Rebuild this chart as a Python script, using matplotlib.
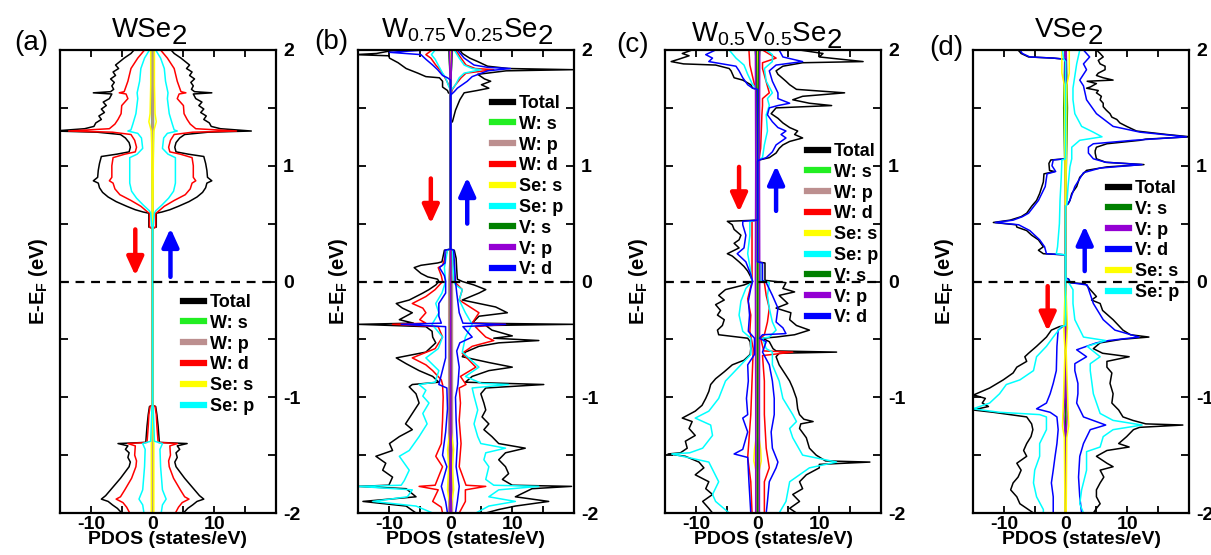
import matplotlib
matplotlib.use("Agg")
import matplotlib.pyplot as plt
from matplotlib.lines import Line2D

plt.rcParams["font.family"] = ["Liberation Sans", "DejaVu Sans"]
plt.rcParams["mathtext.default"] = "regular"
plt.rcParams["axes.unicode_minus"] = False

COLORS = {
    "Total": "black", "W: s": "#22ee22", "W: p": "#bc8f8f", "W: d": "red",
    "Se: s": "yellow", "Se: p": "cyan", "V: s": "#008000", "V: p": "#9400d3",
    "V: d": "blue",
}

# ---------------------------------------------------------------------------
# PDOS curves as (E - E_F [eV], DOS [states/eV]) pairs.
# Spin-up values are positive, spin-down values negative.
# ---------------------------------------------------------------------------

# (a) WSe2 -- non-magnetic, spin-down is the mirror of spin-up
A_TOTAL = [(2.0, 3.0), (1.97, 3.5), (1.93, 4.6), (1.90, 5.3), (1.87, 6.0), (1.84, 5.5),
           (1.81, 6.4), (1.78, 6.0), (1.75, 6.8), (1.72, 6.2), (1.69, 6.6), (1.66, 6.3),
           (1.64, 6.8), (1.63, 9.6), (1.62, 6.6), (1.58, 7.0), (1.55, 8.0), (1.52, 7.5),
           (1.49, 8.3), (1.46, 7.8), (1.43, 8.7), (1.40, 8.3), (1.37, 9.2), (1.34, 9.5),
           (1.32, 11.0), (1.30, 16.0), (1.29, 9.0), (1.27, 5.2), (1.24, 4.4), (1.20, 3.8),
           (1.16, 3.6), (1.12, 3.8), (1.10, 5.8), (1.08, 8.3), (1.02, 8.6), (0.96, 8.8),
           (0.90, 8.9), (0.87, 9.6), (0.85, 8.8), (0.81, 8.6), (0.77, 8.1), (0.73, 7.2),
           (0.69, 5.9), (0.65, 4.2), (0.62, 2.8), (0.60, 1.5), (0.59, 0.6), (0.47, 0.6),
           (0.46, 0.0), (-1.07, 0.0), (-1.08, 0.5), (-1.15, 0.7), (-1.25, 0.9),
           (-1.39, 1.1), (-1.40, 5.6), (-1.42, 4.0), (-1.45, 4.4), (-1.48, 3.8),
           (-1.52, 4.0), (-1.56, 3.6), (-1.60, 3.8), (-1.65, 4.5), (-1.70, 5.2),
           (-1.75, 6.0), (-1.80, 6.8), (-1.85, 7.6), (-1.88, 8.3), (-1.90, 7.2),
           (-1.93, 6.5), (-1.96, 5.7), (-2.0, 5.0)]
A_WD = [(2.0, 1.3), (1.93, 2.4), (1.84, 3.5), (1.73, 4.0), (1.64, 4.6), (1.63, 5.4),
        (1.62, 4.3), (1.58, 4.0), (1.52, 5.0), (1.45, 5.1), (1.40, 5.6), (1.36, 6.1),
        (1.32, 7.0), (1.30, 13.6), (1.29, 6.5), (1.27, 3.5), (1.22, 2.9), (1.16, 2.6),
        (1.12, 2.8), (1.10, 4.5), (1.07, 6.4), (1.00, 6.6), (0.90, 6.6), (0.87, 7.0),
        (0.85, 6.4), (0.80, 6.1), (0.75, 5.3), (0.70, 3.5), (0.65, 1.9), (0.60, 0.8),
        (0.59, 0.5), (0.47, 0.5), (0.46, 0.0), (-1.07, 0.0), (-1.08, 0.4), (-1.15, 0.6),
        (-1.25, 0.7), (-1.39, 0.9), (-1.40, 4.0), (-1.42, 2.8), (-1.50, 2.9),
        (-1.55, 2.6), (-1.60, 2.7), (-1.70, 3.4), (-1.80, 4.5), (-1.86, 5.2),
        (-1.88, 5.9), (-1.91, 4.8), (-1.95, 4.2), (-2.0, 3.7)]
A_SEP = [(2.0, 0.5), (1.93, 1.3), (1.84, 1.9), (1.73, 2.1), (1.63, 2.5), (1.58, 2.4),
         (1.45, 2.7), (1.36, 3.2), (1.31, 3.5), (1.30, 4.0), (1.28, 2.4), (1.24, 1.8),
         (1.15, 1.6), (1.10, 2.5), (1.07, 3.7), (0.95, 3.7), (0.85, 3.7), (0.78, 3.4),
         (0.72, 2.6), (0.66, 1.5), (0.61, 0.5), (0.59, 0.3), (0.47, 0.1), (0.46, 0.0),
         (-1.07, 0.0), (-1.08, 0.1), (-1.38, 0.3), (-1.40, 1.6), (-1.45, 1.2),
         (-1.60, 1.3), (-1.80, 1.6), (-1.88, 2.2), (-1.93, 1.6), (-2.0, 1.4)]
A_WS = [(2.0, 0.1), (1.3, 0.15), (0.46, 0.0), (-1.07, 0.0), (-1.4, 0.1), (-2.0, 0.1)]
A_WP = [(2.0, 0.1), (1.3, 0.1), (0.46, 0.0), (-1.07, 0.0), (-1.4, 0.05), (-2.0, 0.1)]
A_SES = [(2.0, 0.3), (1.7, 0.3), (1.45, 0.4), (1.38, 0.6), (1.30, 0.2), (1.2, 0.15),
         (0.6, 0.05), (0.46, 0.0), (-1.07, 0.0), (-1.4, 0.2), (-2.0, 0.2)]

# (b) W0.75V0.25Se2
B_TOTAL_UP = [(2.0, 1.5), (1.97, 1.9), (1.93, 3.1), (1.90, 4.4), (1.86, 6.0), (1.84, 9.4),
              (1.83, 19.8), (1.82, 9.0), (1.79, 4.4), (1.75, 5.5), (1.73, 6.5), (1.70, 5.0),
              (1.67, 6.2), (1.65, 4.3), (1.63, 2.2), (1.57, 1.5), (1.48, 0.8), (1.38, 0.3),
              (1.37, 0.0), (0.28, 0.0), (0.27, 0.6), (0.20, 0.9), (0.10, 1.0), (0.02, 1.1),
              (0.0, 1.9), (-0.03, 3.8), (-0.07, 5.7), (-0.10, 4.6), (-0.16, 1.9),
              (-0.19, 4.6), (-0.22, 7.3), (-0.27, 9.2), (-0.30, 4.6), (-0.36, 3.5),
              (-0.37, 20.0), (-0.38, 5.7), (-0.42, 6.7), (-0.47, 10.0), (-0.49, 7.0),
              (-0.51, 14.3), (-0.53, 7.8), (-0.56, 4.6), (-0.61, 2.4), (-0.65, 1.9),
              (-0.70, 6.2), (-0.74, 10.0), (-0.77, 6.2), (-0.82, 3.5), (-0.87, 2.4),
              (-0.89, 15.1), (-0.92, 5.7), (-0.97, 4.9), (-1.05, 5.4), (-1.11, 5.7),
              (-1.17, 5.1), (-1.23, 6.2), (-1.28, 5.4), (-1.34, 6.7), (-1.40, 7.8),
              (-1.44, 12.1), (-1.48, 8.9), (-1.54, 7.8), (-1.60, 8.9), (-1.66, 9.4),
              (-1.71, 8.4), (-1.76, 10.0), (-1.77, 19.6), (-1.79, 13.2), (-1.86, 10.5),
              (-1.90, 15.9), (-1.94, 10.5), (-1.97, 7.8), (-2.0, 5.7)]
B_TOTAL_DN = [(2.0, -9.0), (1.97, -12.0), (1.96, -15.5), (1.95, -10.0), (1.93, -9.9),
              (1.89, -8.5), (1.84, -7.2), (1.80, -5.3), (1.77, -4.0), (1.76, -1.8),
              (1.73, -1.3), (1.68, -1.3), (1.65, -0.5), (1.63, -0.35), (1.62, 0.0),
              (0.28, 0.0), (0.27, -1.0), (0.22, -1.2), (0.17, -1.4), (0.16, -2.1),
              (0.14, -4.8), (0.12, -5.9), (0.07, -4.8), (0.04, -3.7), (0.02, -2.1),
              (0.0, -1.9), (-0.03, -2.4), (-0.07, -3.5), (-0.10, -4.5), (-0.16, -6.7),
              (-0.19, -8.8), (-0.23, -7.8), (-0.27, -6.2), (-0.33, -8.3), (-0.36, -6.0),
              (-0.37, -15.0), (-0.39, -4.0), (-0.43, -3.0), (-0.48, -2.9), (-0.53, -2.4),
              (-0.61, -4.0), (-0.66, -8.8), (-0.71, -7.2), (-0.77, -5.1), (-0.82, -2.9),
              (-0.87, -1.9), (-0.89, -6.2), (-0.91, -6.7), (-0.97, -5.6), (-1.05, -5.1),
              (-1.14, -6.2), (-1.23, -7.3), (-1.28, -6.2), (-1.34, -8.3), (-1.40, -9.9),
              (-1.46, -9.4), (-1.51, -12.1), (-1.57, -10.5), (-1.63, -11.0),
              (-1.69, -9.4), (-1.76, -10.0), (-1.77, -15.0), (-1.79, -7.2), (-1.86, -5.6),
              (-1.90, -14.2), (-1.94, -7.2), (-2.0, -5.6)]
B_WD_UP = [(2.0, 0.8), (1.93, 1.7), (1.87, 2.5), (1.84, 4.0), (1.83, 7.0), (1.80, 2.5),
           (1.76, 1.7), (1.70, 0.8), (1.66, 0.3), (1.60, 0.0), (0.28, 0.0), (0.27, 0.3),
           (0.0, 0.6), (-0.07, 1.9), (-0.16, 1.4), (-0.27, 4.6), (-0.36, 3.5),
           (-0.37, 8.9), (-0.39, 4.0), (-0.48, 5.7), (-0.51, 7.0), (-0.56, 3.5),
           (-0.62, 1.9), (-0.74, 4.1), (-0.82, 1.6), (-0.89, 2.5), (-0.92, 1.4),
           (-1.05, 1.6), (-1.20, 1.4), (-1.40, 1.7), (-1.60, 1.4), (-1.76, 2.5),
           (-1.77, 5.7), (-1.80, 2.4), (-1.90, 2.4), (-2.0, 1.4)]
B_WD_DN = [(2.0, -3.0), (1.96, -4.0), (1.93, -3.2), (1.87, -2.4), (1.82, -1.6),
           (1.77, -1.0), (1.72, -0.5), (1.66, 0.0), (0.28, 0.0), (0.27, -0.5),
           (0.14, -1.3), (0.12, -2.0), (0.05, -1.5), (0.0, -1.3), (-0.07, -2.5),
           (-0.13, -4.0), (-0.19, -6.2), (-0.23, -4.5), (-0.27, -4.0), (-0.33, -5.0),
           (-0.36, -4.0), (-0.37, -9.4), (-0.39, -2.0), (-0.48, -1.3), (-0.58, -2.5),
           (-0.66, -6.2), (-0.72, -4.0), (-0.77, -2.9), (-0.85, -1.5), (-0.89, -1.3),
           (-1.0, -1.2), (-1.2, -1.3), (-1.4, -1.5), (-1.51, -2.4), (-1.6, -1.3),
           (-1.76, -2.5), (-1.77, -5.1), (-1.80, -2.0), (-1.90, -2.9), (-1.95, -1.5),
           (-2.0, -1.3)]
B_SEP_UP = [(2.0, 0.6), (1.93, 1.4), (1.87, 2.2), (1.84, 3.5), (1.83, 4.9), (1.80, 2.2),
            (1.76, 1.4), (1.70, 0.8), (1.66, 0.2), (1.60, 0.0), (0.28, 0.0), (0.27, 0.3),
            (0.0, 0.5), (-0.03, 0.8), (-0.07, 1.9), (-0.16, 1.4), (-0.27, 2.4),
            (-0.37, 3.5), (-0.48, 2.4), (-0.61, 1.9), (-0.74, 4.6), (-0.82, 2.4),
            (-0.88, 5.0), (-0.89, 9.4), (-0.92, 3.5), (-0.99, 3.8), (-1.11, 4.4),
            (-1.23, 3.8), (-1.34, 4.4), (-1.40, 4.9), (-1.44, 8.9), (-1.48, 5.7),
            (-1.54, 5.4), (-1.60, 6.2), (-1.71, 5.7), (-1.76, 7.0), (-1.77, 14.3),
            (-1.80, 7.8), (-1.86, 6.2), (-1.90, 10.5), (-1.94, 6.2), (-2.0, 4.1)]
B_SEP_DN = [(2.0, -2.5), (1.96, -3.1), (1.92, -2.5), (1.86, -1.9), (1.80, -1.3),
            (1.76, -0.8), (1.70, -0.4), (1.65, 0.0), (0.28, 0.0), (0.27, -0.5),
            (0.12, -1.0), (0.0, -0.8), (-0.10, -1.4), (-0.19, -2.4), (-0.27, -1.9),
            (-0.37, -3.0), (-0.48, -1.3), (-0.58, -2.0), (-0.66, -4.0), (-0.77, -1.9),
            (-0.87, -2.5), (-0.89, -5.1), (-0.94, -4.0), (-0.99, -4.5), (-1.05, -3.5),
            (-1.14, -4.5), (-1.23, -3.8), (-1.34, -5.1), (-1.46, -6.7), (-1.51, -8.3),
            (-1.63, -6.7), (-1.72, -7.5), (-1.76, -8.0), (-1.77, -15.0), (-1.80, -6.2),
            (-1.86, -7.0), (-1.90, -12.6), (-1.94, -5.6), (-2.0, -2.9)]
B_VD_UP = [(2.0, 1.1), (1.93, 2.2), (1.87, 3.8), (1.85, 6.0), (1.84, 9.7), (1.82, 6.0),
           (1.77, 3.5), (1.73, 2.7), (1.67, 1.1), (1.64, 0.6), (1.61, 0.0), (0.28, 0.0),
           (0.27, 0.5), (0.0, 0.8), (-0.10, 1.0), (-0.27, 1.4), (-0.36, 2.0),
           (-0.37, 8.9), (-0.39, 2.0), (-0.48, 3.5), (-0.53, 1.5), (-0.60, 1.0),
           (-0.74, 1.4), (-0.89, 1.2), (-1.0, 0.8), (-1.2, 0.9), (-1.4, 1.1),
           (-1.6, 0.9), (-1.77, 1.4), (-1.9, 1.1), (-2.0, 0.8)]
B_VD_DN = [(2.0, -4.0), (1.98, -9.9), (1.96, -4.8), (1.92, -4.0), (1.87, -2.9),
           (1.83, -2.1), (1.78, -1.3), (1.76, -0.5), (1.74, 0.0), (0.28, 0.0),
           (0.27, -0.9), (0.16, -0.9), (0.12, -1.8), (0.05, -1.0), (0.0, -0.8),
           (-0.10, -0.8), (-0.19, -1.9), (-0.30, -1.9), (-0.36, -1.5), (-0.37, -8.0),
           (-0.39, -0.8), (-0.48, -0.8), (-0.66, -0.8), (-0.89, -1.9), (-0.92, -0.6),
           (-1.1, -0.5), (-1.3, -0.8), (-1.5, -1.3), (-1.6, -0.6), (-1.77, -1.5),
           (-1.9, -0.8), (-2.0, -0.5)]
B_WS = [(2.0, 0.2), (1.8, 0.1), (1.6, 0.0), (0.28, 0.0), (-2.0, 0.1)]
B_WP = [(2.0, 0.2), (1.6, 0.0), (0.28, 0.0), (0.0, 0.3), (-1.0, 0.3), (-2.0, 0.3)]
B_SES = [(2.0, 0.1), (1.6, 0.0), (0.28, 0.0), (-1.3, 0.1), (-1.45, 0.5), (-1.6, 0.3),
         (-1.8, 0.5), (-1.9, 0.2), (-2.0, 0.1)]
B_VS = [(2.0, 0.3), (1.8, 0.1), (1.6, 0.0), (0.28, 0.0), (-2.0, 0.05)]
B_VP = [(2.0, 0.2), (1.6, 0.0), (0.28, 0.0), (-2.0, 0.1)]

# (c) W0.5V0.5Se2
C_TOTAL_UP = [(2.0, 6.8), (1.97, 10.6), (1.94, 10.0), (1.90, 17.1), (1.89, 7.3), (1.86, 4.1),
              (1.82, 3.0), (1.79, 3.3), (1.73, 4.6), (1.70, 5.2), (1.66, 6.3), (1.63, 14.1),
              (1.60, 7.3), (1.57, 5.7), (1.54, 8.4), (1.52, 12.0), (1.50, 3.0), (1.45, 2.2),
              (1.41, 3.3), (1.37, 4.1), (1.33, 5.2), (1.30, 6.5), (1.27, 6.0), (1.24, 7.3),
              (1.21, 5.2), (1.18, 4.1), (1.15, 3.5), (1.11, 3.0), (1.07, 1.9), (1.05, 0.3),
              (1.04, 0.0), (0.17, 0.0), (0.16, 1.2), (0.01, 1.2), (-0.01, 4.6),
              (-0.06, 4.1), (-0.09, 6.0), (-0.12, 3.5), (-0.19, 4.9), (-0.23, 3.0),
              (-0.27, 5.4), (-0.33, 5.2), (-0.38, 6.3), (-0.42, 8.4), (-0.46, 6.0),
              (-0.48, 3.0), (-0.49, 0.8), (-0.52, 1.9), (-0.58, 2.5), (-0.60, 3.0),
              (-0.61, 12.8), (-0.62, 3.5), (-0.65, 3.0), (-0.72, 3.5), (-0.81, 4.6),
              (-0.86, 5.2), (-0.92, 5.7), (-1.01, 6.3), (-1.10, 6.5), (-1.15, 6.8),
              (-1.19, 7.5), (-1.21, 9.0), (-1.23, 7.0), (-1.27, 6.8), (-1.35, 7.9),
              (-1.44, 8.4), (-1.50, 9.5), (-1.55, 11.0), (-1.56, 18.2), (-1.58, 10.0),
              (-1.61, 10.0), (-1.67, 7.9), (-1.73, 6.8), (-1.79, 7.3), (-1.84, 5.7),
              (-1.90, 6.8), (-1.96, 5.2), (-2.0, 6.3)]
C_TOTAL_DN = [(2.0, -10.6), (1.97, -12.2), (1.95, -11.1), (1.92, -12.8), (1.90, -14.0),
              (1.88, -12.0), (1.87, -6.8), (1.84, -4.6), (1.82, -4.3), (1.76, -3.8),
              (1.74, -2.4), (1.70, -1.1), (1.67, -0.8), (1.66, 0.0), (0.53, 0.0),
              (0.52, -4.9), (0.49, -4.1), (0.45, -3.8), (0.40, -2.7), (0.36, -3.0),
              (0.33, -3.8), (0.29, -3.0), (0.24, -4.9), (0.22, -4.1), (0.17, -3.0),
              (0.13, -2.2), (0.09, -1.6), (0.04, -1.1), (0.0, -0.8), (-0.03, -2.2),
              (-0.07, -5.2), (-0.12, -6.3), (-0.16, -5.4), (-0.20, -6.8), (-0.25, -6.0),
              (-0.29, -6.5), (-0.33, -5.4), (-0.38, -5.7), (-0.42, -6.5), (-0.46, -6.3),
              (-0.49, -1.6), (-0.52, -1.2), (-0.58, -1.1), (-0.63, -1.2), (-0.68, -2.2),
              (-0.72, -4.1), (-0.78, -5.4), (-0.84, -6.8), (-0.89, -7.6), (-0.95, -7.9),
              (-1.01, -8.4), (-1.07, -9.0), (-1.12, -10.1), (-1.18, -12.2),
              (-1.21, -10.6), (-1.27, -11.1), (-1.33, -10.1), (-1.38, -11.7),
              (-1.44, -11.4), (-1.48, -12.5), (-1.49, -14.5), (-1.51, -11.7),
              (-1.56, -9.5), (-1.61, -8.7), (-1.67, -10.1), (-1.73, -7.9), (-1.79, -8.4),
              (-1.84, -7.3), (-1.90, -8.9), (-1.96, -7.9), (-2.0, -7.3)]
C_WD_UP = [(2.0, 0.8), (1.93, 3.0), (1.89, 0.8), (1.84, 0.8), (1.63, 1.9), (1.58, 0.8),
           (1.52, 0.8), (1.44, 0.7), (1.15, 0.5), (1.05, 0.2), (1.04, 0.0), (0.17, 0.0),
           (0.16, 0.5), (0.01, 0.5), (-0.01, 1.1), (-0.12, 1.4), (-0.23, 1.9),
           (-0.35, 1.6), (-0.46, 1.1), (-0.49, 0.5), (-0.60, 1.0), (-0.61, 5.7),
           (-0.64, 0.8), (-0.86, 1.1), (-1.15, 1.1), (-1.44, 1.4), (-1.61, 1.9),
           (-1.73, 1.1), (-2.0, 1.1)]
C_WD_DN = [(2.0, -1.4), (1.87, -1.25), (1.70, -0.5), (1.66, 0.0), (0.53, 0.0),
           (0.52, -0.9), (0.29, -0.9), (0.0, -0.9), (-0.15, -1.6), (-0.29, -1.1),
           (-0.43, -1.25), (-0.58, -0.7), (-0.86, -0.9), (-1.15, -1.1), (-1.52, -1.6),
           (-1.73, -1.1), (-2.0, -0.9)]
C_SEP_UP = [(2.0, 1.4), (1.96, 2.4), (1.90, 2.4), (1.84, 1.1), (1.73, 1.4), (1.63, 2.4),
            (1.58, 1.6), (1.52, 1.9), (1.44, 1.4), (1.30, 1.6), (1.18, 1.1), (1.07, 0.8),
            (1.05, 0.1), (1.04, 0.0), (0.17, 0.0), (0.16, 0.5), (0.01, 0.5),
            (-0.01, 1.9), (-0.12, 1.6), (-0.23, 1.9), (-0.35, 2.4), (-0.42, 3.0),
            (-0.48, 1.9), (-0.49, 0.8), (-0.58, 1.4), (-0.61, 2.4), (-0.72, 2.4),
            (-0.86, 3.5), (-1.01, 4.1), (-1.15, 5.7), (-1.21, 6.3), (-1.27, 5.2),
            (-1.35, 5.7), (-1.50, 7.3), (-1.56, 12.8), (-1.61, 8.4), (-1.73, 5.2),
            (-1.90, 4.6), (-2.0, 3.5)]
C_SEP_DN = [(2.0, -4.6), (1.93, -3.5), (1.87, -2.2), (1.79, -1.6), (1.70, -0.8),
            (1.66, 0.0), (0.53, 0.0), (0.52, -1.25), (0.40, -1.25), (0.29, -1.5),
            (0.24, -1.6), (0.13, -1.25), (0.0, -0.9), (-0.06, -1.9), (-0.17, -2.7),
            (-0.29, -3.0), (-0.43, -2.4), (-0.49, -1.1), (-0.63, -1.1), (-0.72, -2.7),
            (-0.86, -5.2), (-1.01, -6.3), (-1.12, -7.9), (-1.18, -10.1), (-1.24, -7.6),
            (-1.33, -7.3), (-1.44, -8.9), (-1.48, -11.0), (-1.49, -13.9), (-1.56, -7.9),
            (-1.73, -6.3), (-1.84, -7.3), (-1.90, -6.8), (-2.0, -4.6)]
C_VD_UP = [(2.0, 3.5), (1.94, 4.1), (1.90, 7.3), (1.87, 3.0), (1.82, 1.9), (1.73, 2.4),
           (1.63, 3.3), (1.58, 3.3), (1.54, 5.2), (1.52, 3.3), (1.50, 1.9), (1.44, 1.6),
           (1.38, 2.4), (1.33, 3.3), (1.30, 4.6), (1.27, 3.8), (1.24, 4.6), (1.18, 3.0),
           (1.12, 2.4), (1.07, 1.4), (1.05, 0.3), (1.04, 0.0), (0.17, 0.0), (0.16, 0.8),
           (0.01, 0.8), (-0.01, 1.4), (-0.12, 2.4), (-0.23, 3.3), (-0.35, 3.0),
           (-0.40, 4.1), (-0.45, 4.6), (-0.46, 0.8), (-0.49, 0.3), (-0.52, 1.4),
           (-0.61, 0.8), (-0.72, 1.9), (-0.86, 2.4), (-1.01, 2.7), (-1.15, 2.7),
           (-1.30, 2.2), (-1.44, 2.4), (-1.56, 3.3), (-1.61, 3.0), (-1.73, 1.9),
           (-1.90, 1.6), (-2.0, 1.4)]
C_VD_DN = [(2.0, -6.8), (1.96, -8.4), (1.93, -7.3), (1.90, -7.9), (1.89, -6.8),
           (1.86, -3.5), (1.82, -3.0), (1.76, -2.4), (1.70, -1.6), (1.67, -0.8),
           (1.66, 0.0), (0.53, 0.0), (0.52, -2.4), (0.49, -2.4), (0.40, -1.9),
           (0.29, -2.2), (0.24, -3.3), (0.17, -1.9), (0.06, -1.1), (0.0, -0.8),
           (-0.06, -1.1), (-0.17, -1.5), (-0.29, -1.3), (-0.43, -1.5), (-0.49, -0.5),
           (-0.63, -0.5), (-0.72, -1.6), (-0.86, -1.5), (-1.01, -1.8), (-1.15, -1.6),
           (-1.18, -2.4), (-1.30, -1.6), (-1.45, -2.4), (-1.49, -3.8), (-1.52, -1.6),
           (-1.73, -1.4), (-2.0, -1.1)]
C_WS = [(2.0, 0.4), (1.9, 0.2), (1.7, 0.0), (0.17, 0.0), (-2.0, 0.05)]
C_WP = [(2.0, 0.1), (1.05, 0.05), (0.17, 0.0), (-2.0, 0.1)]
C_SES = [(2.0, 0.1), (1.05, 0.0), (0.17, 0.0), (-1.3, 0.1), (-1.45, 0.5), (-1.55, 0.6),
         (-1.65, 0.2), (-2.0, 0.1)]
C_VS = [(2.0, 0.2), (1.05, 0.0), (0.17, 0.0), (-2.0, 0.05)]
C_VP = [(2.0, 0.35), (1.0, 0.3), (0.0, 0.35), (-1.0, 0.3), (-2.0, 0.3)]

# (d) VSe2
D_TOTAL_UP = [(2.0, 5.0), (1.97, 5.6), (1.94, 6.1), (1.91, 5.3), (1.88, 5.6), (1.86, 6.4),
              (1.83, 6.4), (1.80, 5.3), (1.78, 5.0), (1.76, 6.1), (1.74, 7.7), (1.73, 3.5),
              (1.71, 5.0), (1.68, 4.0), (1.67, 3.4), (1.65, 5.3), (1.63, 5.0), (1.60, 5.8),
              (1.57, 5.6), (1.54, 6.1), (1.51, 6.1), (1.48, 6.6), (1.45, 7.2), (1.42, 7.5),
              (1.40, 8.3), (1.37, 8.8), (1.34, 9.9), (1.30, 11.5), (1.27, 16.4),
              (1.25, 20.2), (1.23, 13.0), (1.22, 12.1), (1.19, 6.7), (1.16, 5.0),
              (1.13, 4.8), (1.11, 4.8), (1.06, 5.0), (1.03, 6.5), (1.01, 12.7), (0.99, 6.7),
              (0.96, 3.4), (0.90, 2.3), (0.82, 1.8), (0.76, 1.0), (0.70, 0.7), (0.67, 0.4),
              (0.66, 0.0), (0.03, 0.0), (0.02, 0.5), (-0.01, 0.7), (-0.02, 3.2),
              (-0.07, 4.0), (-0.13, 5.0), (-0.16, 4.2), (-0.19, 5.6), (-0.25, 6.0),
              (-0.33, 7.7), (-0.42, 9.3), (-0.46, 10.5), (-0.48, 13.5), (-0.50, 9.0),
              (-0.53, 5.6), (-0.58, 4.5), (-0.62, 6.0), (-0.65, 10.3), (-0.69, 6.7),
              (-0.74, 6.7), (-0.79, 7.5), (-0.88, 7.2), (-0.97, 7.7), (-1.05, 7.5),
              (-1.11, 8.6), (-1.17, 9.3), (-1.20, 10.9), (-1.23, 13.0), (-1.24, 19.0),
              (-1.26, 12.0), (-1.28, 11.0), (-1.34, 9.9), (-1.40, 8.6), (-1.43, 10.3),
              (-1.46, 6.7), (-1.51, 5.0), (-1.57, 6.7), (-1.60, 7.7), (-1.63, 5.6),
              (-1.69, 6.2), (-1.74, 5.6), (-1.80, 5.0), (-1.86, 5.0), (-1.92, 5.6),
              (-1.96, 5.0), (-2.0, 4.5)]
D_TOTAL_DN = [(2.0, -7.7), (1.97, -7.2), (1.94, -6.0), (1.93, -2.0), (1.92, 0.0),
              (1.06, 0.0), (1.05, -2.4), (1.02, -2.7), (0.96, -2.6), (0.95, -1.8),
              (0.93, -3.5), (0.86, -3.6), (0.76, -4.2), (0.70, -4.7), (0.65, -5.5),
              (0.59, -6.3), (0.56, -7.2), (0.53, -9.0), (0.51, -11.7), (0.49, -8.0),
              (0.47, -7.9), (0.44, -6.3), (0.40, -5.5), (0.36, -4.4), (0.30, -3.6),
              (0.27, -4.4), (0.24, -3.6), (0.23, 0.0), (-0.38, 0.0), (-0.39, -1.0),
              (-0.42, -2.3), (-0.48, -3.1), (-0.56, -4.7), (-0.62, -6.0), (-0.65, -6.6),
              (-0.69, -6.3), (-0.74, -7.9), (-0.79, -8.5), (-0.85, -10.1), (-0.92, -12.3),
              (-0.98, -14.9), (-1.01, -13.0), (-1.05, -13.5), (-1.08, -12.5),
              (-1.11, -15.0), (-1.13, -11.7), (-1.17, -6.3), (-1.23, -5.5), (-1.28, -5.3),
              (-1.34, -5.6), (-1.40, -6.3), (-1.46, -6.8), (-1.51, -6.3), (-1.57, -7.9),
              (-1.63, -7.2), (-1.69, -7.7), (-1.74, -8.5), (-1.80, -8.9), (-1.86, -7.9),
              (-1.92, -7.4), (-2.0, -5.2)]
D_VD_UP = [(2.0, 2.9), (1.94, 3.9), (1.88, 2.9), (1.83, 3.4), (1.74, 2.3), (1.69, 2.9),
           (1.57, 3.4), (1.45, 5.0), (1.34, 7.7), (1.29, 12.1), (1.25, 19.6), (1.22, 11.0),
           (1.19, 4.5), (1.16, 3.7), (1.11, 3.7), (1.06, 4.5), (1.03, 6.5), (1.01, 12.4),
           (0.98, 5.6), (0.94, 2.9), (0.82, 1.5), (0.70, 0.7), (0.67, 0.4), (0.66, 0.0),
           (0.03, 0.0), (0.02, 0.5), (-0.01, 0.8), (-0.03, 3.5), (-0.19, 4.5),
           (-0.33, 6.1), (-0.42, 8.0), (-0.48, 11.9), (-0.51, 7.0), (-0.53, 5.0),
           (-0.59, 1.8), (-0.65, 3.4), (-0.71, 1.5), (-0.77, 1.5), (-0.88, 2.0),
           (-0.97, 2.0), (-1.05, 1.8), (-1.17, 2.9), (-1.24, 6.5), (-1.28, 4.0),
           (-1.40, 2.9), (-1.51, 2.3), (-1.69, 2.1), (-1.86, 2.3), (-2.0, 2.6)]
D_VD_DN = [(2.0, -7.4), (1.97, -7.0), (1.94, -5.8), (1.93, -2.0), (1.92, 0.0),
           (1.06, 0.0), (1.05, -2.0), (1.00, -2.2), (0.95, -1.6), (0.93, -3.0),
           (0.82, -3.3), (0.70, -4.4), (0.59, -6.0), (0.56, -7.0), (0.53, -8.5),
           (0.51, -11.4), (0.49, -7.6), (0.44, -5.8), (0.36, -4.2), (0.30, -3.4),
           (0.24, -3.1), (0.23, 0.0), (-0.38, 0.0), (-0.39, -0.5), (-0.42, -1.2),
           (-0.56, -1.4), (-0.77, -1.5), (-0.88, -2.0), (-0.97, -2.5), (-1.05, -3.1),
           (-1.10, -4.7), (-1.13, -2.5), (-1.17, -1.4), (-1.28, -1.2), (-1.40, -1.4),
           (-1.51, -1.7), (-1.63, -2.0), (-1.74, -2.3), (-1.86, -2.0), (-2.0, -2.0)]
D_SEP_UP = [(2.0, 2.3), (1.88, 1.8), (1.67, 1.2), (1.57, 1.2), (1.45, 1.5), (1.34, 2.6),
            (1.29, 4.5), (1.25, 5.9), (1.22, 2.3), (1.16, 1.0), (1.06, 1.0), (0.99, 0.7),
            (0.82, 0.4), (0.66, 0.2), (0.65, 0.0), (0.03, 0.0), (0.0, 0.4),
            (-0.07, 1.2), (-0.19, 1.2), (-0.33, 1.5), (-0.48, 2.9), (-0.51, 6.5),
            (-0.56, 3.5), (-0.65, 5.6), (-0.71, 4.0), (-0.77, 4.0), (-0.97, 4.5),
            (-1.14, 5.6), (-1.20, 7.7), (-1.24, 12.4), (-1.28, 7.7), (-1.34, 6.1),
            (-1.43, 5.6), (-1.47, 3.4), (-1.63, 3.4), (-1.80, 2.6), (-1.92, 2.3),
            (-2.0, 2.9)]
D_SEP_DN = [(2.0, -0.5), (1.92, -0.3), (1.90, 0.0), (1.06, 0.0), (1.05, -0.6),
            (0.90, -0.7), (0.70, -0.9), (0.50, -1.0), (0.30, -1.3), (0.24, -1.5),
            (0.23, 0.0), (-0.38, 0.0), (-0.39, -0.7), (-0.48, -2.0), (-0.56, -3.1),
            (-0.65, -4.7), (-0.77, -5.2), (-0.85, -7.4), (-0.89, -9.6), (-0.97, -10.7),
            (-1.05, -12.3), (-1.10, -15.0), (-1.13, -10.7), (-1.15, -4.2),
            (-1.17, -3.1), (-1.28, -3.1), (-1.40, -4.2), (-1.51, -4.2), (-1.63, -5.0),
            (-1.74, -5.2), (-1.86, -4.7), (-1.97, -3.6), (-2.0, -3.6)]
D_VS = [(2.0, 0.1), (1.5, 0.3), (1.2, 0.2), (0.66, 0.0), (0.02, 0.0), (-2.0, 0.05)]
D_VP = [(2.0, 0.1), (0.66, 0.0), (0.02, 0.0), (-1.0, 0.1), (-1.15, 0.3), (-1.3, 0.1),
        (-2.0, 0.05)]
D_SES = [(2.0, 0.6), (1.8, 0.6), (1.7, 0.2), (0.66, 0.05), (0.02, 0.0), (-0.4, 0.3),
         (-0.6, 0.1), (-1.1, 0.4), (-1.25, 0.5), (-1.35, 0.2), (-2.0, 0.1)]


def mirror(pts):
    """Spin-down counterpart drawn on the negative side."""
    return [(e, -v) for e, v in pts]


# (name, spin up, spin down) in drawing order; later entries sit on top
PANELS = [
    dict(letter="(a)", title="WSe", curves=[
        ("Total", A_TOTAL, mirror(A_TOTAL)), ("W: s", A_WS, mirror(A_WS)),
        ("W: p", A_WP, mirror(A_WP)), ("W: d", A_WD, mirror(A_WD)),
        ("Se: s", A_SES, mirror(A_SES)), ("Se: p", A_SEP, mirror(A_SEP))]),
    dict(letter="(b)", title="W$_{0.75}$V$_{0.25}$Se", curves=[
        ("Total", B_TOTAL_UP, B_TOTAL_DN), ("W: s", B_WS, mirror(B_WS)),
        ("W: p", B_WP, mirror(B_WP)), ("W: d", B_WD_UP, B_WD_DN),
        ("Se: s", B_SES, mirror(B_SES)), ("Se: p", B_SEP_UP, B_SEP_DN),
        ("V: s", B_VS, mirror(B_VS)), ("V: p", B_VP, mirror(B_VP)),
        ("V: d", B_VD_UP, B_VD_DN)]),
    dict(letter="(c)", title="W$_{0.5}$V$_{0.5}$Se", curves=[
        ("Total", C_TOTAL_UP, C_TOTAL_DN), ("W: s", C_WS, mirror(C_WS)),
        ("W: p", C_WP, mirror(C_WP)), ("W: d", C_WD_UP, C_WD_DN),
        ("Se: s", C_SES, mirror(C_SES)), ("Se: p", C_SEP_UP, C_SEP_DN),
        ("V: s", C_VS, mirror(C_VS)), ("V: p", C_VP, mirror(C_VP)),
        ("V: d", C_VD_UP, C_VD_DN)]),
    dict(letter="(d)", title="VSe", curves=[
        ("Total", D_TOTAL_UP, D_TOTAL_DN), ("V: s", D_VS, mirror(D_VS)),
        ("V: p", D_VP, mirror(D_VP)), ("V: d", D_VD_UP, D_VD_DN),
        ("Se: s", D_SES, mirror(D_SES)), ("Se: p", D_SEP_UP, D_SEP_DN)]),
]

# layout in pixels of the 1211x555 canvas
W_PX, H_PX = 1211, 555
AX_LEFT = [60, 358, 665, 973]
AX_W, AX_TOP, AX_BOT = 216, 50, 513
TITLE_X = [142, 459, 759, 1061]          # centre of the main part of each title
TITLE_BASE = [37, 37, 41, 37]            # title baseline, px from top
LETTER_XY = [(31, 43), (331, 42), (633, 45), (946, 48)]
YLABEL_DX = [21, 20, 26, 29]             # ylabel centre left of the axis
LEGEND_XY = [(183, 294), (492, 95), (807, 143), (1108, 180)]
# arrows: (x, tail E, head E)
DOWN_ARROW = [(-2.8, 0.45, 0.05), (-3.2, 0.89, 0.50), (-3.0, 0.99, 0.60), (-2.9, -0.04, -0.43)]
UP_ARROW = [(2.9, 0.04, 0.46), (2.7, 0.50, 0.90), (3.0, 0.61, 1.00), (3.1, 0.09, 0.48)]

fig = plt.figure(figsize=(W_PX / 100, H_PX / 100), dpi=100)

for i, panel in enumerate(PANELS):
    ax = fig.add_axes([AX_LEFT[i] / W_PX, (H_PX - AX_BOT) / H_PX,
                       AX_W / W_PX, (AX_BOT - AX_TOP) / H_PX])
    for name, up, dn in panel["curves"]:
        for pts in (up, dn):
            ax.plot([p[1] for p in pts], [p[0] for p in pts],
                    color=COLORS[name], lw=1.1)
    ax.axhline(0, color="black", lw=1.6, ls=(0, (4, 3)), zorder=5)

    for (x, e0, e1), col in ((DOWN_ARROW[i], "red"), (UP_ARROW[i], "blue")):
        ax.annotate("", xy=(x, e1), xytext=(x, e0),
                    arrowprops=dict(arrowstyle="-|>,head_length=0.55,head_width=0.25",
                                    color=col, lw=3.2, shrinkA=0, shrinkB=0,
                                    mutation_scale=20))

    ax.set_xlim(-15, 20)
    ax.set_ylim(-2, 2)
    ax.set_xticks([-10, 0, 10])
    ax.set_xticks([-5, 5, 15], minor=True)
    ax.set_yticks([-2, -1, 0, 1, 2])
    ax.set_yticklabels(["-2", "-1", "0", "1", "2"])
    ax.set_yticks([-1.5, -0.5, 0.5, 1.5], minor=True)
    ax.tick_params(axis="x", which="both", direction="in", top=True, length=5,
                   width=1.3, labelsize=14, pad=2.5)
    ax.tick_params(axis="y", which="both", direction="in", left=True, right=True,
                   labelleft=False, labelright=True, length=6, width=1.3,
                   labelsize=14, pad=5)
    for lab in ax.get_xticklabels() + ax.get_yticklabels():
        lab.set_fontweight("bold")
    for sp in ax.spines.values():
        sp.set_linewidth(1.6)

    ax.set_xlabel("PDOS (states/eV)", fontsize=14, fontweight="bold", labelpad=-1.5)
    ax.text(-YLABEL_DX[i] / AX_W, 0.5, "E-E$_F$ (eV)", transform=ax.transAxes,
            rotation=90, ha="center", va="center", fontsize=14.5, fontweight="bold")

    names = [c[0] for c in panel["curves"]]
    handles = [Line2D([], [], color=COLORS[n], lw=4.5) for n in names]
    lx, ly = LEGEND_XY[i]
    ax.legend(handles, names, loc="upper left",
              bbox_to_anchor=((lx - AX_LEFT[i]) / AX_W, (AX_BOT - ly) / (AX_BOT - AX_TOP)),
              frameon=False, borderpad=0, borderaxespad=0, handlelength=1.15,
              handletextpad=0.35, labelspacing=0.21,
              prop={"weight": "bold", "size": 13})

    fig.text(LETTER_XY[i][0] / W_PX, 1 - LETTER_XY[i][1] / H_PX, panel["letter"],
             ha="center", va="center", fontsize=20)
    panel["title_artist"] = fig.text(TITLE_X[i] / W_PX, 1 - TITLE_BASE[i] / H_PX,
                                     panel["title"], ha="center", va="baseline",
                                     fontsize=20)

# the trailing "2" of each formula sits lowered at full size
fig.canvas.draw()
for i, panel in enumerate(PANELS):
    bb = panel["title_artist"].get_window_extent()
    fig.text(bb.x1 / W_PX, 1 - (TITLE_BASE[i] + 6.5) / H_PX, "2",
             ha="left", va="baseline", fontsize=20)

fig.savefig("out.png", dpi=100)
